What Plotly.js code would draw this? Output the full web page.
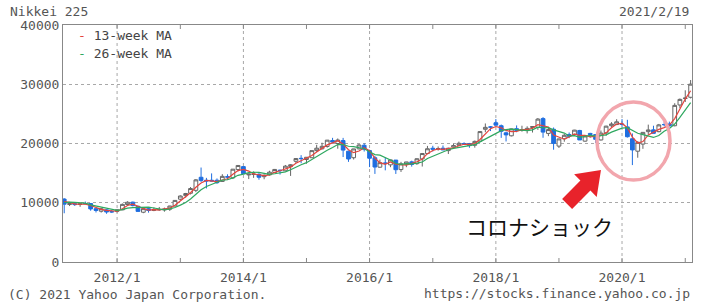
<!DOCTYPE html>
<html><head><meta charset="utf-8">
<script src="https://cdn.plot.ly/plotly-3.0.1.min.js"></script>
<style>html,body{margin:0;padding:0;background:#fff;}#chart{width:703px;height:306px;}</style>
</head><body><div id="chart"></div>
<script>
const months = [
"2011-03","2011-04","2011-05","2011-06","2011-07","2011-08","2011-09","2011-10","2011-11","2011-12",
"2012-01","2012-02","2012-03","2012-04","2012-05","2012-06","2012-07","2012-08","2012-09","2012-10","2012-11","2012-12",
"2013-01","2013-02","2013-03","2013-04","2013-05","2013-06","2013-07","2013-08","2013-09","2013-10","2013-11","2013-12",
"2014-01","2014-02","2014-03","2014-04","2014-05","2014-06","2014-07","2014-08","2014-09","2014-10","2014-11","2014-12",
"2015-01","2015-02","2015-03","2015-04","2015-05","2015-06","2015-07","2015-08","2015-09","2015-10","2015-11","2015-12",
"2016-01","2016-02","2016-03","2016-04","2016-05","2016-06","2016-07","2016-08","2016-09","2016-10","2016-11","2016-12",
"2017-01","2017-02","2017-03","2017-04","2017-05","2017-06","2017-07","2017-08","2017-09","2017-10","2017-11","2017-12",
"2018-01","2018-02","2018-03","2018-04","2018-05","2018-06","2018-07","2018-08","2018-09","2018-10","2018-11","2018-12",
"2019-01","2019-02","2019-03","2019-04","2019-05","2019-06","2019-07","2019-08","2019-09","2019-10","2019-11","2019-12",
"2020-01","2020-02","2020-03","2020-04","2020-05","2020-06","2020-07","2020-08","2020-09","2020-10","2020-11","2020-12",
"2021-01","2021-02"];

const open = [
10624,9708,9850,9720,9870,9870,8990,8570,8800,8500,
8550,8800,9700,10100,9400,8400,9000,8700,8800,8800,8900,9450,
10600,11200,11600,12100,14300,13800,13800,13800,13600,14400,14200,15600,
16100,14700,14800,14800,14400,14700,15100,15500,15400,16100,17000,17500,
17300,17600,18800,19100,19500,20500,20000,20500,18700,17600,19100,19700,
18800,17600,16000,16700,16400,17200,15600,16500,16900,16600,17400,18300,
19200,19100,19200,18800,19400,19700,20000,20000,19700,20400,22400,22800,
23500,23000,21800,21300,22500,22200,22200,22700,22700,24200,21700,22400,
19561,20800,21500,21500,22200,20400,21700,21500,20600,21800,23000,23200,
23300,22800,20800,18700,19900,22000,22300,22000,23200,23300,23000,26500,
27600,27800];

const high = [
10768,9850,10017,9880,10207,9910,9100,9152,8900,8760,
8900,9870,10255,10190,9500,9100,9130,9220,9288,9180,9490,10433,
11250,11662,12650,14000,15942,14200,14953,14100,14818,14800,15700,16320,
16164,14900,15300,15000,14800,15400,15700,15600,16374,16533,17520,18030,
17700,18800,19778,20133,20600,20953,20850,20946,18800,19100,19900,20012,
18951,17900,17291,17613,17251,17200,16900,16900,17100,17500,18400,19592,
19615,19500,19668,19300,19961,20318,20200,20100,20500,22100,23383,22950,
24124,23200,22000,22500,23050,23000,22900,22900,24300,24448,22700,22698,
20800,21600,21860,22300,22300,21300,21800,21600,22200,23000,23600,24100,
24115,24000,21700,20400,21900,23185,23000,23300,23600,23700,26800,27600,
28980,30714];

const low = [
8227,9441,9460,9318,9800,8656,8359,8343,8135,8296,
8349,8790,9600,9388,8541,8238,8328,8580,8650,8488,8620,9380,
10400,10850,11400,11800,13500,12415,13600,13188,13500,13853,14000,15300,
14900,13995,14200,13885,13964,14600,15000,14753,15400,14529,16700,16672,
16592,17600,18600,19000,19300,19990,19115,17714,16901,17300,19000,18650,
16017,14865,15900,15471,16000,14864,15200,16000,16100,16400,16111,18200,
18650,18800,18900,18224,19300,19600,19800,19280,19300,20400,21900,22100,
23000,20950,20347,21200,21900,22000,21700,21851,22300,20971,21243,18949,
19241,20300,20900,21400,20600,20300,21000,20110,20500,21300,22800,23100,
22800,21000,16358,17600,19100,21500,21710,21900,22900,22900,22900,26000,
27000,27600];

const close = [
9755,9849,9693,9816,9833,8955,8700,8988,8434,8455,
8802,9723,10083,9520,8543,9007,8695,8840,8870,8928,9446,10395,
11138,11559,12398,13860,13775,13677,13668,13389,14456,14328,15662,16291,
14915,14841,14828,14304,14632,15162,15621,15425,16174,16414,17460,17451,
17674,18798,19207,19520,20563,20236,20585,18890,17388,19083,19747,19034,
17518,16027,16759,16666,17235,15576,16569,16887,16450,17425,18308,19114,
19041,19119,18909,19197,19651,20033,19925,19646,20356,22012,22725,22765,
23098,22068,21454,22468,22202,22305,22554,22865,24120,21920,22351,20015,
20773,21385,21206,22259,20601,21276,21521,20704,21756,22927,23294,23657,
23205,21143,18917,20194,21878,22288,21710,23140,23185,22977,26434,27444,
27663,30017];

const ma13 = [
10206,10076,9766,9786,9781,9535,9163,8881,8707,8626,
8564,8993,9536,9775,9382,9023,8748,8847,8802,8879,
9081,9590,10326,11031,11698,12606,13344,13771,13707,13578,
13838,14058,14815,15427,15623,15349,14861,14658,14588,14699,
15138,15403,15740,16004,16683,17108,17528,17974,18560,19175,
19763,20106,20461,19904,18954,18454,18739,19288,18766,17526,
16768,16484,16887,16492,16460,16344,16635,16921,17394,18282,
18821,19091,19023,19075,19252,19627,19870,19868,19976,20671,
21698,22501,22863,22644,22207,21997,22041,22325,22354,22575,
23180,22968,22797,21429,21046,20724,21121,21617,21355,21379,
21133,21167,21327,21796,22659,23293,23385,22668,21088,20085,
20330,21453,21959,22379,22678,23101,24199,25900,27500,28900];

const ma26 = [
9998,10105,10065,9996,9928,9650,9474,9331,9121,8894,
8722,8850,9081,9170,9188,9280,9262,9115,8913,8814,
8964,9196,9603,10056,10644,11466,12188,12735,13156,13461,
13804,13882,14197,14632,14840,15082,15144,15140,14969,14780,
14898,14995,15220,15571,16043,16424,16766,17329,17834,18352,
18869,19333,19818,19834,19530,19458,19322,19121,18610,18133,
18028,17625,17207,16630,16472,16615,16564,16690,16869,17459,
17871,18243,18653,18948,19172,19325,19472,19560,19801,20271,
20783,21238,21767,22171,22354,22430,22343,22266,22175,22308,
22752,22661,22686,22304,22007,21761,21275,21332,21040,21250,
21375,21261,21353,21464,21913,22310,22591,22664,22191,21735,
21499,21271,21022,21355,22066,22530,23289,24400,25600,26900];

const gridDates = ["2012-01-01", "2014-01-01", "2016-01-01", "2018-01-01", "2020-01-01"];
const yearTicks = ["2012-01-01","2013-01-01","2014-01-01","2015-01-01","2016-01-01","2017-01-01","2018-01-01","2019-01-01","2020-01-01","2021-01-01"];
const legendLabels = ["13-week MA", "26-week MA"];
const maColors = ["#e5443d", "#2fa860"];

// plot area in page pixels (for placing decorations)
const PL = 63, PR = 692, PT = 25, PB = 262;
const px = x => (x - PL) / (PR - PL);
const py = y => (PB - y) / (PB - PT);

const mono = "DejaVu Sans Mono, monospace";
const xRange = ["2011-02-22", "2021-02-09"];

const traces = [
  {
    type: "candlestick", x: months, open: open, high: high, low: low, close: close,
    increasing: {line: {color: "#666666", width: 1}, fillcolor: "#ffffff"},
    decreasing: {line: {color: "#1f6ee0", width: 1}, fillcolor: "#1f6ee0"},
    whiskerwidth: 0, hoverinfo: "skip", showlegend: false
  },
  {type: "scatter", mode: "lines", x: months, y: ma13, line: {color: maColors[0], width: 1.2}, showlegend: false, hoverinfo: "skip"},
  {type: "scatter", mode: "lines", x: months, y: ma26, line: {color: maColors[1], width: 1.2}, showlegend: false, hoverinfo: "skip"}
];

// arrow polygon (page pixels)
const arrowPts = [[601,170],[596.7,196.9],[590.4,190.6],[572.1,208.9],[562.1,198.9],[580.4,180.6],[574.1,174.3]];
const arrowPath = arrowPts.map((p, i) => (i ? "L" : "M") + px(p[0]).toFixed(4) + "," + py(p[1]).toFixed(4)).join(" ") + " Z";

const gridShapes = gridDates.map(d => ({
  type: "line", xref: "x", yref: "paper", x0: d, x1: d, y0: 0, y1: 1,
  line: {color: "#a8a8a8", width: 1, dash: "3px,3px"}, layer: "below"
}));
const tickLen = 4 / (PB - PT);
const tickShapes = [];
yearTicks.forEach(d => {
  tickShapes.push({type: "line", xref: "x", yref: "paper", x0: d, x1: d, y0: 0, y1: tickLen, line: {color: "#888888", width: 1}, layer: "above"});
  tickShapes.push({type: "line", xref: "x", yref: "paper", x0: d, x1: d, y0: 1 - tickLen, y1: 1, line: {color: "#888888", width: 1}, layer: "above"});
});

const layout = {
  width: 703, height: 306,
  margin: {l: PL, r: 703 - PR, t: PT, b: 306 - PB, pad: 0},
  paper_bgcolor: "#ffffff", plot_bgcolor: "#ffffff",
  showlegend: false,
  boxgap: 0.12, boxgroupgap: 0.12,
  xaxis: {
    type: "date", range: xRange,
    tickmode: "array", tickvals: gridDates, tickformat: "%Y/%-m",
    showgrid: false,
    showline: true, linecolor: "#888888", linewidth: 1, mirror: true,
    ticks: "", ticklabelstandoff: 3,
    tickfont: {family: mono, size: 13, color: "#555555"},
    rangeslider: {visible: false}, zeroline: false, fixedrange: true
  },
  yaxis: {
    range: [0, 40000], dtick: 10000, tickformat: "d",
    showgrid: true, gridcolor: "#a8a8a8", griddash: "3px,3px", gridwidth: 1,
    showline: true, linecolor: "#888888", linewidth: 1, mirror: true,
    ticks: "", tickfont: {family: mono, size: 13, color: "#555555"},
    zeroline: false, fixedrange: true
  },
  shapes: gridShapes.concat(tickShapes, [
    {type: "circle", xref: "paper", yref: "paper", x0: px(597), x1: px(670), y0: py(180), y1: py(102),
     line: {color: "#f2a6ad", width: 3.5}, layer: "above"},
    {type: "path", xref: "paper", yref: "paper", path: arrowPath, fillcolor: "#e8232b", line: {width: 0}, layer: "above"}
  ]),
  annotations: [
    {xref: "paper", yref: "paper", x: px(8), y: py(11), xanchor: "left", yanchor: "middle", showarrow: false,
     text: "Nikkei 225", font: {family: mono, size: 13, color: "#555555"}},
    {xref: "paper", yref: "paper", x: px(691), y: py(11), xanchor: "right", yanchor: "middle", showarrow: false,
     text: "2021/2/19", font: {family: mono, size: 13, color: "#555555"}},
    {xref: "paper", yref: "paper", x: px(6), y: py(294), xanchor: "left", yanchor: "middle", showarrow: false,
     text: "(C) 2021 Yahoo Japan Corporation.", font: {family: mono, size: 13, color: "#555555"}},
    {xref: "paper", yref: "paper", x: px(692), y: py(293), xanchor: "right", yanchor: "middle", showarrow: false,
     text: "https://stocks.finance.yahoo.co.jp", font: {family: mono, size: 13, color: "#555555"}},
    {xref: "paper", yref: "paper", x: px(76), y: py(35), xanchor: "left", yanchor: "middle", showarrow: false,
     text: "<span style='color:" + maColors[0] + "'>-</span> " + legendLabels[0], font: {family: mono, size: 13, color: "#444444"}},
    {xref: "paper", yref: "paper", x: px(76), y: py(53), xanchor: "left", yanchor: "middle", showarrow: false,
     text: "<span style='color:" + maColors[1] + "'>-</span> " + legendLabels[1], font: {family: mono, size: 13, color: "#444444"}},
    {xref: "paper", yref: "paper", x: px(539), y: py(226), xanchor: "center", yanchor: "middle", showarrow: false,
     text: "コロナショック", font: {family: "Noto Sans CJK JP", size: 21, color: "#111111"}}
  ]
};

Plotly.newPlot("chart", traces, layout, {displayModeBar: false, staticPlot: true});
</script></body></html>
